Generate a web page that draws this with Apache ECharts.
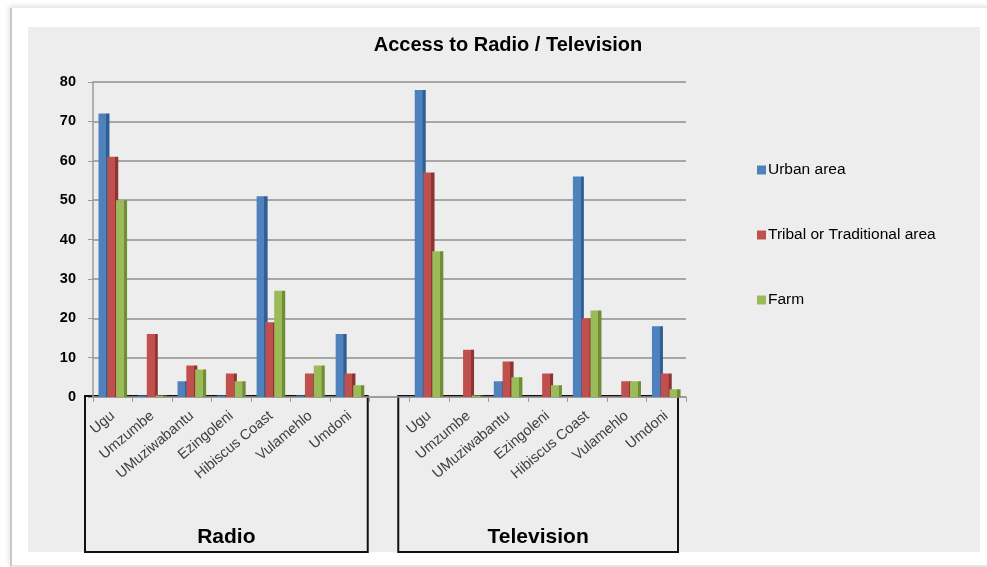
<!DOCTYPE html>
<html>
<head>
<meta charset="utf-8">
<script src="https://cdn.jsdelivr.net/npm/echarts@6/dist/echarts.min.js"></script>
<style>
  html, body { margin: 0; padding: 0; background: #ffffff; }
  #wrap { position: relative; width: 987px; height: 567px; overflow: hidden; background: #fff; }
  #frame { position: absolute; left: 10px; top: 8px; width: 990px; height: 557px;
           background: #fff; border-left: 2px solid #c8c8c8; border-bottom: 2px solid #e4e4e4;
           box-shadow: -1px -2px 5px rgba(0,0,0,0.12); }
  #panel { position: absolute; left: 28px; top: 27px; width: 952px; height: 525px; background: #ededed; }
  #chart { position: absolute; left: 0; top: 0; width: 987px; height: 567px; }
</style>
</head>
<body>
<div id="wrap">
  <div id="frame"></div>
  <div id="panel"></div>
  <div id="chart"></div>
</div>
<script>
// Municipalities in the Ugu district, shown once for each medium
const districts = ['Ugu', 'Umzumbe', 'UMuziwabantu', 'Ezingoleni', 'Hibiscus Coast', 'Vulamehlo', 'Umdoni'];
const groups = ['Radio', 'Television'];
const seriesNames = ['Urban area', 'Tribal or Traditional area', 'Farm'];

// Access to radio (%)
const radioUrban  = [72, 0.4, 4, 0.4, 51, 0.4, 16];
const radioTribal = [61, 16, 8, 6, 19, 6, 6];
const radioFarm   = [50, 0.4, 7, 4, 27, 8, 3];

// Access to television (%)
const tvUrban  = [78, 0, 4, 0, 56, 0, 18];
const tvTribal = [57, 12, 9, 6, 20, 4, 6];
const tvFarm   = [37, 0.4, 5, 3, 22, 4, 2];

const yTicks = [0, 10, 20, 30, 40, 50, 60, 70, 80];

const colors = [
  ['#4f81bd', '#2f5d94'],
  ['#c0504d', '#8e3431'],
  ['#9bbb59', '#6f8d35']
];

// one category axis: radio block, an empty spacer slot, television block
const categories = districts.concat(['']).concat(districts);
const join = (a, b) => a.concat(['-']).concat(b);
const values = [join(radioUrban, tvUrban), join(radioTribal, tvTribal), join(radioFarm, tvFarm)];

function barStyle(i) {
  return {
    color: new echarts.graphic.LinearGradient(0, 0, 1, 0, [
      { offset: 0, color: colors[i][0] },
      { offset: 0.7, color: colors[i][0] },
      { offset: 0.72, color: colors[i][1] },
      { offset: 1, color: colors[i][1] }
    ])
  };
}

const chart = echarts.init(document.getElementById('chart'), null, { renderer: 'canvas' });
const font = "'Liberation Sans', Arial, sans-serif";

chart.setOption({
  backgroundColor: 'transparent',
  animation: false,
  title: {
    text: 'Access to Radio / Television',
    left: 503, top: 30, textAlign: 'center',
    textStyle: { fontFamily: font, fontSize: 20, fontWeight: 'bold', color: '#000' }
  },
  legend: {
    orient: 'vertical',
    left: 752, top: 157,
    itemWidth: 9, itemHeight: 9, itemGap: 49,
    icon: 'rect',
    data: seriesNames.map((n, i) => ({ name: n, itemStyle: { color: colors[i][0] } })),
    textStyle: { fontFamily: font, fontSize: 15.5, color: '#000', padding: [0, 0, 0, -3] }
  },
  grid: { left: 93, right: 301, top: 82, bottom: 170, containLabel: false },
  xAxis: {
    type: 'category',
    data: categories,
    boundaryGap: true,
    axisLine: { show: true, lineStyle: { color: '#9a9a9a', width: 1.5 } },
    axisTick: { show: true, alignWithLabel: false, length: 5, lineStyle: { color: '#9a9a9a' } },
    axisLabel: {
      rotate: 40, interval: 0, margin: 17,
      fontFamily: font, fontSize: 14.5, color: '#404040'
    }
  },
  yAxis: {
    type: 'value',
    min: 0, max: 80, interval: 10,
    axisLine: { show: true, lineStyle: { color: '#9a9a9a', width: 1.5 } },
    axisTick: { show: true, length: 5, lineStyle: { color: '#9a9a9a' } },
    axisLabel: {
      margin: 17, fontFamily: font, fontSize: 14.5, fontWeight: 'bold', color: '#000',
      formatter: v => (yTicks.indexOf(v) >= 0 ? String(v) : '')
    },
    splitLine: { show: true, lineStyle: { color: '#a6a6a6', width: 2 } }
  },
  series: seriesNames.map((name, i) => ({
    name: name,
    type: 'bar',
    data: values[i],
    barWidth: 11,
    barGap: '-20%',
    itemStyle: barStyle(i)
  }))
});

// group boxes beneath the category labels
function drawGroups() {
  const bandW = chart.convertToPixel({ xAxisIndex: 0 }, 1) - chart.convertToPixel({ xAxisIndex: 0 }, 0);
  const y0 = chart.convertToPixel({ yAxisIndex: 0 }, 0);
  const spans = [[0, districts.length - 1], [districts.length + 1, categories.length - 1]];
  const offs = [[-8, -2], [-11, -8]];
  const elements = [];
  spans.forEach((s, g) => {
    const x1 = chart.convertToPixel({ xAxisIndex: 0 }, s[0]) - bandW / 2 + offs[g][0];
    const x2 = chart.convertToPixel({ xAxisIndex: 0 }, s[1]) + bandW / 2 + offs[g][1];
    elements.push({
      type: 'rect', silent: true,
      shape: { x: x1, y: y0 - 1, width: x2 - x1, height: 553 - y0 },
      style: { fill: null, stroke: '#111', lineWidth: 2 }
    });
    elements.push({
      type: 'text', silent: true,
      x: (x1 + x2) / 2, y: 537,
      style: {
        text: groups[g], fill: '#000', font: 'bold 21px ' + font,
        textAlign: 'center', textVerticalAlign: 'middle'
      }
    });
  });
  chart.setOption({ graphic: elements });
}
drawGroups();
</script>
</body>
</html>
